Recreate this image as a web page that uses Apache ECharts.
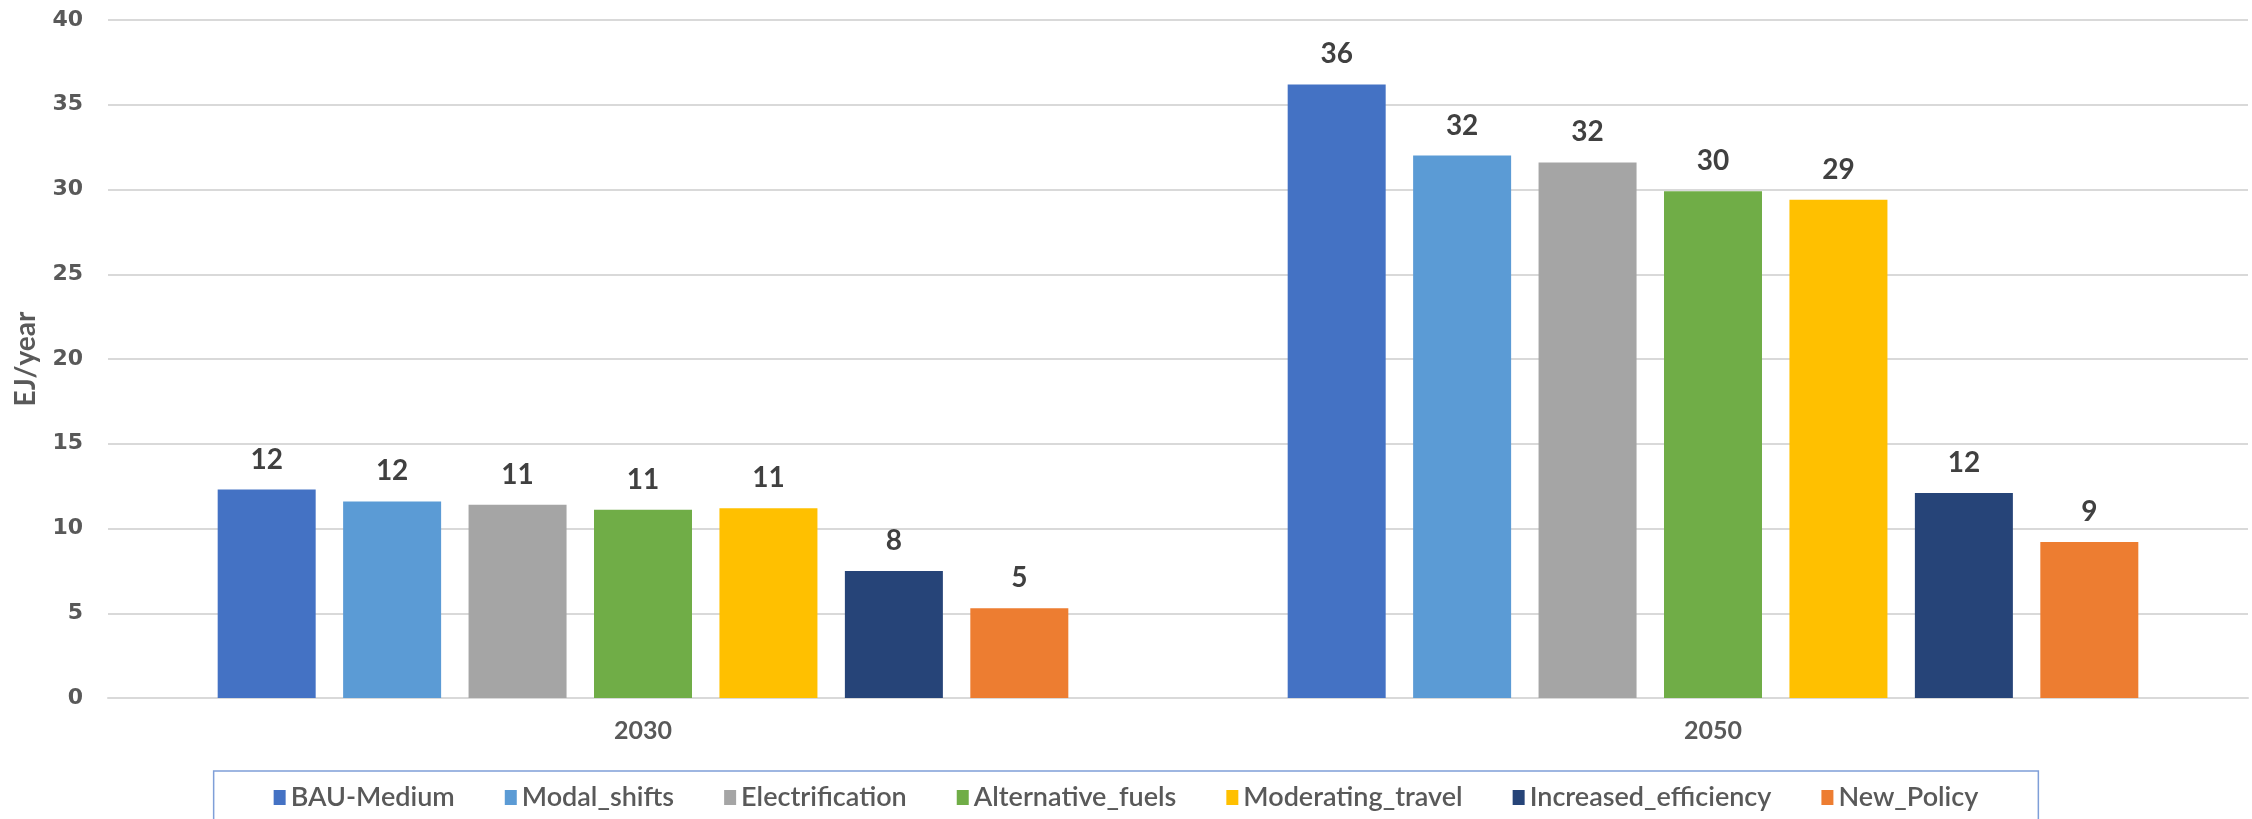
<!DOCTYPE html>
<html>
<head>
<meta charset="utf-8">
<script src="https://cdn.jsdelivr.net/npm/echarts@6/dist/echarts.min.js"></script>
<style>
  html, body { margin: 0; padding: 0; background: #fff; }
  #main { width: 2252px; height: 819px; }
</style>
</head>
<body>
<div id="main"></div>
<script>
// years on the x axis
var categories = ['2030', '2050'];

// one array per scenario, EJ/year
var bauMedium = [12.3, 36.2];
var modalShifts = [11.6, 32.0];
var electrification = [11.4, 31.6];
var alternativeFuels = [11.1, 29.9];
var moderatingTravel = [11.2, 29.4];
var increasedEfficiency = [7.5, 12.1];
var newPolicy = [5.3, 9.2];

var yTicks = [0, 5, 10, 15, 20, 25, 30, 35, 40];

var seriesDefs = [
  ['BAU-Medium', bauMedium, '#4472C4'],
  ['Modal_shifts', modalShifts, '#5B9BD5'],
  ['Electrification', electrification, '#A5A5A5'],
  ['Alternative_fuels', alternativeFuels, '#70AD47'],
  ['Moderating_travel', moderatingTravel, '#FFC000'],
  ['Increased_efficiency', increasedEfficiency, '#264478'],
  ['New_Policy', newPolicy, '#ED7D31']
];

var narrow = 'Lato, sans-serif';

var myChart = echarts.init(document.getElementById('main'));

var option = {
  animation: false,
  grid: {
    left: 108,
    right: 4,
    top: 20,
    bottom: 121,
    outerBoundsMode: 'none'
  },
  legend: {
    data: seriesDefs.map(function (d) { return d[0]; }),
    left: 'center',
    top: 771,
    padding: [13, 60, 20, 60],
    borderColor: '#7f9fd8',
    borderWidth: 1.5,
    itemWidth: 12,
    itemHeight: 15,
    itemGap: 50,
    icon: 'rect',
    textStyle: {
      color: '#595959',
      fontFamily: narrow,
      fontWeight: 600,
      fontSize: 27
    }
  },
  xAxis: {
    type: 'category',
    data: categories,
    axisLine: { lineStyle: { color: '#d9d9d9', width: 2 } },
    axisTick: { show: false },
    axisLabel: {
      color: '#595959',
      fontFamily: narrow,
      fontWeight: 'bold',
      fontSize: 25,
      margin: 20
    }
  },
  yAxis: {
    type: 'value',
    min: yTicks[0],
    max: yTicks[yTicks.length - 1],
    interval: 5,
    name: 'EJ/year',
    nameLocation: 'middle',
    nameGap: 68,
    nameTextStyle: {
      color: '#595959',
      fontFamily: narrow,
      fontWeight: 'bold',
      fontSize: 28
    },
    axisLine: { show: false },
    axisTick: { show: false },
    splitLine: { lineStyle: { color: '#d9d9d9', width: 2 } },
    axisLabel: {
      color: '#595959',
      fontFamily: '"DejaVu Sans", Verdana, sans-serif',
      fontWeight: 'bold',
      fontSize: 22,
      margin: 25
    }
  },
  series: seriesDefs.map(function (d) {
    return {
      name: d[0],
      type: 'bar',
      data: d[1],
      barWidth: 98,
      barGap: '28%',
      itemStyle: { color: d[2] },
      label: {
        show: true,
        position: 'top',
        distance: 16,
        color: '#404040',
        fontFamily: narrow,
        fontWeight: 'bold',
        fontSize: 28,
        formatter: function (p) { return Math.round(p.value); }
      }
    };
  })
};

myChart.setOption(option);
window.addEventListener('resize', function () {
  myChart.resize();
});
</script>
</body>
</html>
